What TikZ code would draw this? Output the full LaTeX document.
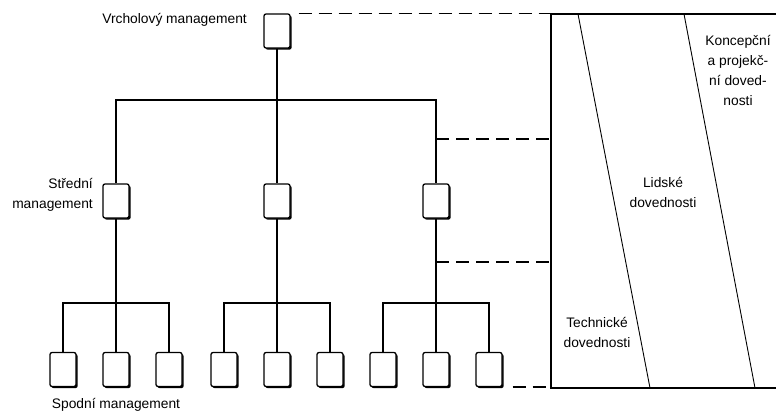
\documentclass[tikz,border=0pt]{standalone}
\usepackage{fontspec}
\setmainfont{Liberation Sans}
\usetikzlibrary{shadows}
\begin{document}
\begin{tikzpicture}[x=1pt,y=-1pt,
  box/.style={draw, line width=1.3pt, fill=white, rounded corners=2pt,
    minimum width=26pt, minimum height=34pt, inner sep=0pt,
    drop shadow={shadow xshift=1.6pt, shadow yshift=-1.6pt, opacity=1, fill=black}},
  tree/.style={line width=1.6pt},
  guide/.style={line width=1.4pt, dash pattern=on 13pt off 7pt},
  frame/.style={line width=1.3pt},
  split/.style={line width=0.9pt},
  lbl/.style={font=\fontsize{13.8}{20}\selectfont, inner sep=0pt, align=center}]
\useasboundingbox (0,0) rectangle (776,416);

% boxes
\node[box] (t) at (277,31) {};
\node[box] (m1) at (116,201) {};
\node[box] (m2) at (277,201) {};
\node[box] (m3) at (436,201) {};
\foreach \n/\x in {1/63,2/116,3/169,4/224,5/277,6/330,7/383,8/436,9/489}
  \node[box] (b\n) at (\x,369.5) {};

% tree connectors
\coordinate (h) at (0,100);
\coordinate (g) at (0,303);
\draw[tree] (t.south) -- (m2.north);
\draw[tree] (m1.north) -- (m1.north |- h) -- (m3.north |- h) -- (m3.north);
\draw[tree] (m1.south) -- (b2.north);
\draw[tree] (m2.south) -- (b5.north);
\draw[tree] (m3.south) -- (b8.north);
\draw[tree] (b1.north) -- (b1.north |- g) -- (b3.north |- g) -- (b3.north);
\draw[tree] (b4.north) -- (b4.north |- g) -- (b6.north |- g) -- (b6.north);
\draw[tree] (b7.north) -- (b7.north |- g) -- (b9.north |- g) -- (b9.north);

% skill frame
\coordinate (rt) at (551,14);
\coordinate (rb) at (551,388);
\coordinate (re) at (776,14);
\coordinate (rf) at (776,388);
\draw[frame] (re) -- (rt) -- (rb) -- (rf);
\coordinate (s1a) at (578,14);
\coordinate (s1b) at (650,388);
\coordinate (s2a) at (684,14);
\coordinate (s2b) at (755,388);
\draw[split] (s1a) -- (s1b);
\draw[split] (s2a) -- (s2b);

% dashed level guides
\coordinate (d1) at (436,139);
\coordinate (d2) at (436,262);
\draw[guide] ([xshift=8pt]t.north east) -- (t.north east -| rt);
\draw[guide] (d1) -- (d1 -| rt);
\draw[guide] (d2) -- (d2 -| rt);
\draw[guide] ([xshift=10pt]b9.south east) -- (b9.south east -| rb);

% labels
\node[lbl, anchor=east] (lt) at (247,20) {Vrcholový management};
\node[lbl, anchor=east, align=right] (lm) at (93,195) {Střední\\management};
\node[lbl] (lb) at (116,405) {Spodní management};
\node[lbl] (lk) at (738,70) {Koncepční\\a projekč-\\ní doved-\\nosti};
\node[lbl] (ll) at (663,192) {Lidské\\dovednosti};
\node[lbl] (lx) at (597,332) {Technické\\dovednosti};
\end{tikzpicture}
\end{document}
